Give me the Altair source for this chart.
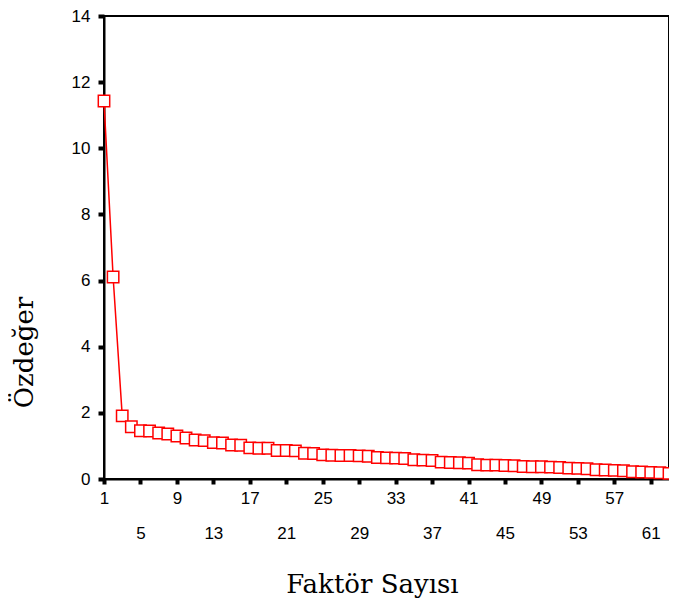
import altair as alt
import pandas as pd

factors = list(range(1, 64))
eigenvalues = [11.43, 6.11, 1.91, 1.58, 1.46, 1.45, 1.39, 1.36, 1.30, 1.24,
               1.18, 1.16, 1.10, 1.09, 1.03, 1.02, 0.94, 0.93, 0.93, 0.86,
               0.86, 0.85, 0.78, 0.77, 0.73, 0.72, 0.71, 0.71, 0.70, 0.69,
               0.65, 0.64, 0.63, 0.62, 0.58, 0.57, 0.56, 0.51, 0.50, 0.49,
               0.48, 0.43, 0.42, 0.42, 0.41, 0.40, 0.38, 0.37, 0.37, 0.36,
               0.35, 0.33, 0.32, 0.31, 0.28, 0.27, 0.26, 0.25, 0.22, 0.21,
               0.20, 0.19, 0.17]
x_ticks = list(range(1, 62, 4))
upper_row = list(range(1, 58, 8))
y_ticks = list(range(0, 15, 2))

df = pd.DataFrame({"factor": factors, "eigen": eigenvalues})

label_expr = ("indexof([" + ",".join(str(v) for v in upper_row) +
              "], datum.value) >= 0 ? datum.label : ['', datum.label]")

x_enc = alt.X(
    "factor:Q",
    scale=alt.Scale(domain=[1, 63], nice=False, zero=False),
    axis=alt.Axis(
        values=x_ticks, labelExpr=label_expr, labelLineHeight=35,
        labelFont="Liberation Sans", labelFontSize=17, labelColor="black",
        labelPadding=6, labelBaseline="top", labelFlush=False,
        tickColor="black", tickWidth=4, tickSize=5,
        domainColor="black", domainWidth=2, grid=False,
        title="Faktör Sayısı", titleFont="DejaVu Serif", titleFontSize=26,
        titleFontWeight="normal", titleColor="black",
        titleX=268, titleY=113, titleAlign="center", titleBaseline="alphabetic",
    ),
)
y_enc = alt.Y(
    "eigen:Q",
    scale=alt.Scale(domain=[0, 14], nice=False),
    axis=alt.Axis(
        values=y_ticks, format="d",
        labelFont="Liberation Sans", labelFontSize=17, labelColor="black",
        labelPadding=8, tickColor="black", tickWidth=4, tickSize=6,
        domainColor="black", domainWidth=2, grid=False,
        title="Özdeğer", titleFont="DejaVu Serif", titleFontSize=26,
        titleFontWeight="normal", titleColor="black",
        titleX=-72, titleY=336, titleAlign="center", titleBaseline="alphabetic",
        titleAngle=270,
    ),
)

base = alt.Chart(df).encode(x=x_enc, y=y_enc)
line = base.mark_line(color="#ff0000", strokeWidth=1.5)
pts = base.mark_point(shape="square", size=130, stroke="#ff0000", fill="white",
                      fillOpacity=1, strokeWidth=1.5, opacity=1)

chart = (line + pts).properties(
    width=565, height=463,
    autosize=alt.AutoSizeParams(type="none"),
    padding={"left": 96, "top": 8, "right": 0, "bottom": 121},
).configure_view(stroke="black", strokeWidth=2)

chart.save("out.html", embed_options={"renderer": "svg", "actions": False})
